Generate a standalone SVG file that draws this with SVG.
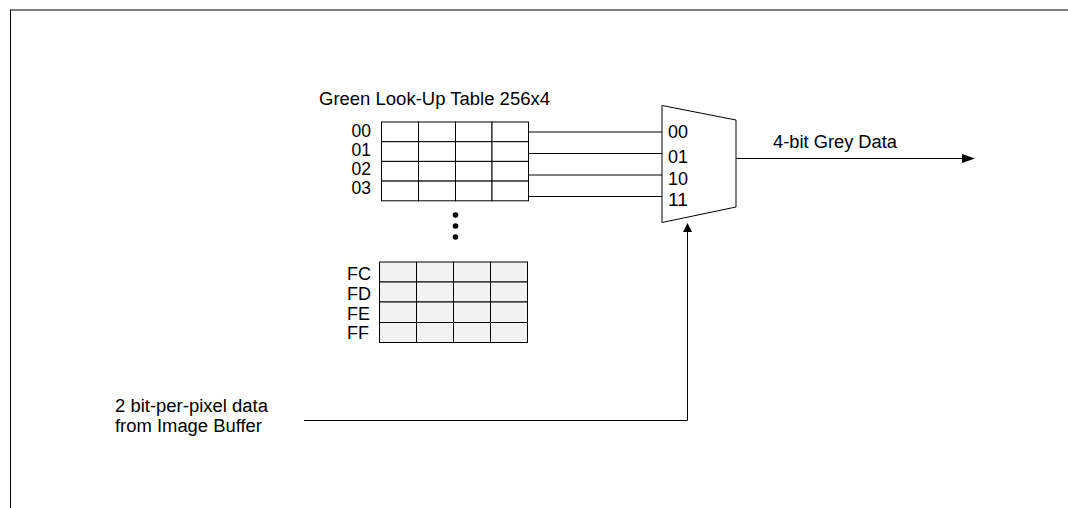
<svg xmlns="http://www.w3.org/2000/svg" width="1068" height="508" viewBox="0 0 1068 508">
<style>
text{font-family:"Liberation Sans",Arial,sans-serif;font-size:18px;fill:#000}
.ln{stroke:#000;stroke-width:1;fill:none}
.cell{stroke:#000;stroke-width:1}
</style>
<rect width="1068" height="508" fill="#fff"/>
<g id="frame">
<line x1="10" y1="10" x2="1068" y2="10" stroke="#808080" stroke-width="2"/>
<line x1="10.5" y1="10" x2="10.5" y2="508" stroke="#000" stroke-width="1"/>
</g>
<g id="lut-top">
<text x="319" y="105" textLength="231" lengthAdjust="spacingAndGlyphs">Green Look-Up Table 256x4</text>
<g fill="#fff" class="cell">
<rect x="381.5" y="122" width="37" height="19.7"/><rect x="418.5" y="122" width="37" height="19.7"/><rect x="455.5" y="122" width="36.5" height="19.7"/><rect x="492" y="122" width="36.5" height="19.7"/>
<rect x="381.5" y="141.7" width="37" height="19.7"/><rect x="418.5" y="141.7" width="37" height="19.7"/><rect x="455.5" y="141.7" width="36.5" height="19.7"/><rect x="492" y="141.7" width="36.5" height="19.7"/>
<rect x="381.5" y="161.4" width="37" height="19.7"/><rect x="418.5" y="161.4" width="37" height="19.7"/><rect x="455.5" y="161.4" width="36.5" height="19.7"/><rect x="492" y="161.4" width="36.5" height="19.7"/>
<rect x="381.5" y="181.1" width="37" height="19.7"/><rect x="418.5" y="181.1" width="37" height="19.7"/><rect x="455.5" y="181.1" width="36.5" height="19.7"/><rect x="492" y="181.1" width="36.5" height="19.7"/>
</g>
<g text-anchor="end">
<text x="371" y="137" textLength="19.5" lengthAdjust="spacingAndGlyphs">00</text>
<text x="371" y="156" textLength="19.5" lengthAdjust="spacingAndGlyphs">01</text>
<text x="371" y="175" textLength="19.5" lengthAdjust="spacingAndGlyphs">02</text>
<text x="371" y="194" textLength="19.5" lengthAdjust="spacingAndGlyphs">03</text>
</g>
</g>
<g id="ellipsis" fill="#000">
<circle cx="455.5" cy="215" r="2.8"/>
<circle cx="455.5" cy="226" r="2.8"/>
<circle cx="455.5" cy="237" r="2.8"/>
</g>
<g id="lut-bottom">
<g fill="#f2f2f2" class="cell">
<rect x="379.5" y="262" width="37" height="20"/><rect x="416.5" y="262" width="37" height="20"/><rect x="453.5" y="262" width="37" height="20"/><rect x="490.5" y="262" width="37" height="20"/>
<rect x="379.5" y="282" width="37" height="20"/><rect x="416.5" y="282" width="37" height="20"/><rect x="453.5" y="282" width="37" height="20"/><rect x="490.5" y="282" width="37" height="20"/>
<rect x="379.5" y="302" width="37" height="20.5"/><rect x="416.5" y="302" width="37" height="20.5"/><rect x="453.5" y="302" width="37" height="20.5"/><rect x="490.5" y="302" width="37" height="20.5"/>
<rect x="379.5" y="322.5" width="37" height="20"/><rect x="416.5" y="322.5" width="37" height="20"/><rect x="453.5" y="322.5" width="37" height="20"/><rect x="490.5" y="322.5" width="37" height="20"/>
</g>
<text x="347" y="280">FC</text>
<text x="347" y="300">FD</text>
<text x="347" y="320">FE</text>
<text x="347" y="339">FF</text>
</g>
<g id="mux">
<polygon points="662,105.5 736,120 736,207 662,222.5" fill="#fff" stroke="#000" stroke-width="1"/>
<text x="668" y="138" textLength="20" lengthAdjust="spacingAndGlyphs">00</text>
<text x="668" y="163" textLength="20" lengthAdjust="spacingAndGlyphs">01</text>
<text x="668" y="185" textLength="20" lengthAdjust="spacingAndGlyphs">10</text>
<text x="668" y="206" textLength="20" lengthAdjust="spacingAndGlyphs">11</text>
</g>
<g id="labels">
<text x="773" y="148" textLength="124" lengthAdjust="spacingAndGlyphs">4-bit Grey Data</text>
<text x="115" y="412" textLength="153" lengthAdjust="spacingAndGlyphs">2 bit-per-pixel data</text>
<text x="115" y="432" textLength="147" lengthAdjust="spacingAndGlyphs">from Image Buffer</text>
</g>
<g id="connectors">
<line class="ln" x1="529" y1="132" x2="662" y2="132"/>
<line class="ln" x1="529" y1="153.5" x2="662" y2="153.5"/>
<line class="ln" x1="529" y1="175" x2="662" y2="175"/>
<line class="ln" x1="529" y1="196.5" x2="662" y2="196.5"/>
<line class="ln" x1="736" y1="158.5" x2="964" y2="158.5"/>
<polygon points="975,158.5 962,154 962,163" fill="#000"/>
<path class="ln" d="M304,420.5 H687.5 V231"/>
<polygon points="687.5,223 683,232 692,232" fill="#000"/>
</g>
</svg>
